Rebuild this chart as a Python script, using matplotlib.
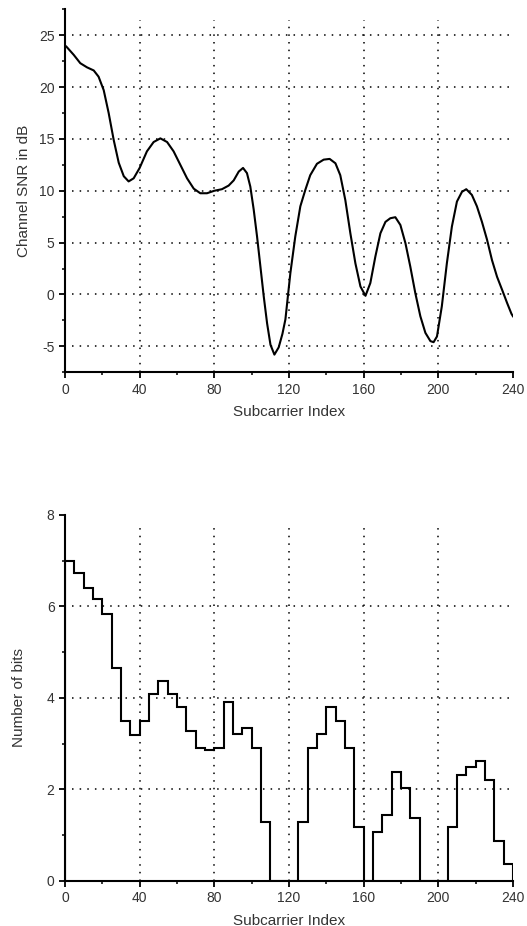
import matplotlib.pyplot as plt
import numpy as np

plt.rcParams['font.family'] = ['Liberation Sans', 'DejaVu Sans']
plt.rcParams['axes.unicode_minus'] = False

# Channel SNR curve
snr_x = [0, 0.75, 4.7, 8.2, 11.8, 15.4, 18, 20.75, 23.4, 26.1, 28.8, 31.5, 34.1, 36.8, 40,
         43.9, 47.5, 51.1, 54.7, 58.2, 61.8, 65.4, 69, 72.5, 76.1, 80, 84.1, 87.7, 90.4,
         93.1, 95.4, 97.5, 99.3, 101.1, 102.9, 104.7, 106.5, 108.3, 110.1, 112.2, 114.5,
         116.5, 118.1, 120.75, 123.4, 126.1, 128.8, 131.4, 135, 138.6, 141.8, 144.9, 147.5,
         150.2, 152.9, 155.6, 158.3, 161, 163.6, 166.3, 169, 171.7, 174.3, 177, 179.7, 182.4,
         185, 187.7, 190.4, 193.1, 195.8, 197.5, 199.3, 201.9, 204.6, 207.3, 210, 212.7, 215,
         218, 220.7, 223.4, 226.1, 228.8, 231.5, 234.2, 236.9, 239.2, 240]
snr_db = [24.0, 23.9, 23.1, 22.3, 21.9, 21.6, 21.0, 19.7, 17.5, 14.9, 12.7, 11.4, 10.9, 11.2, 12.2,
          13.8, 14.7, 15.05, 14.7, 13.8, 12.5, 11.2, 10.2, 9.76, 9.76, 10.0, 10.15, 10.5, 11.0,
          11.85, 12.2, 11.7, 10.4, 8.2, 5.6, 2.7, -0.2, -2.8, -4.85, -5.8, -5.1,
          -3.8, -2.4, 2.05, 5.6, 8.5, 10.1, 11.5, 12.6, 13.0, 13.07, 12.65, 11.5,
          9.1, 5.9, 3.0, 0.77, -0.13, 1.1, 3.66, 5.9, 7.0, 7.35, 7.45, 6.7, 4.95,
          2.7, 0.13, -2.1, -3.7, -4.5, -4.6, -4.05, -1.15, 3.0, 6.55, 8.96, 9.9, 10.15,
          9.6, 8.5, 7.0, 5.3, 3.3, 1.7, 0.45, -0.83, -1.86, -2.1]

# Bit loading per group of 5 subcarriers
bit_edges = np.arange(0, 245, 5)
bits = [7.0, 6.72, 6.41, 6.17, 5.83, 4.66, 3.5, 3.18, 3.5, 4.09, 4.36, 4.09, 3.79, 3.28, 2.91, 2.86,
        2.91, 3.9, 3.22, 3.34, 2.91, 1.29, 0, 0, 0, 1.29, 2.91, 3.22, 3.79, 3.5, 2.91, 1.18,
        0, 1.08, 1.45, 2.39, 2.04, 1.38, 0, 0, 0, 1.18, 2.32, 2.5, 2.62, 2.21, 0.87, 0.37]

txt = '#333333'
grid_kw = dict(color='black', linewidth=1.1, linestyle=(0, (1, 4)), zorder=1)

fig = plt.figure(figsize=(5.27, 9.26), dpi=100)


def style_axes(ax):
    for s in ['top', 'right']:
        ax.spines[s].set_visible(False)
    for s in ['left', 'bottom']:
        ax.spines[s].set_linewidth(1.5)
    ax.tick_params(which='major', direction='out', length=4, width=1.3, colors='black',
                   labelcolor=txt, labelsize=10)
    ax.tick_params(which='minor', direction='out', length=2.5, width=1.1)
    ax.set_xlim(0, 240)
    ax.set_xticks(np.arange(0, 241, 40))
    ax.set_xticks(np.arange(20, 241, 40), minor=True)
    for x in range(40, 201, 40):
        ax.axvline(x, ymax=0.97, **grid_kw)
    ax.set_xlabel('Subcarrier Index', fontsize=11, color=txt, labelpad=6)


# Grafico 1: SNR del canal
ax1 = fig.add_axes([0.1233, 0.598, 0.850, 0.392])
ax1.plot(snr_x, snr_db, color='black', linewidth=1.5, zorder=3)
ax1.set_ylim(-7.5, 27.5)
ax1.set_yticks(np.arange(-5, 26, 5))
ax1.set_yticks(np.arange(-7.5, 27.6, 5), minor=True)
for y in range(-5, 26, 5):
    ax1.axhline(y, xmin=0.015, **grid_kw)
ax1.set_ylabel('Channel SNR in dB', fontsize=11, color=txt, labelpad=6)
style_axes(ax1)

# Grafico 2: bits por subportadora
ax2 = fig.add_axes([0.1233, 0.0486, 0.850, 0.3955])
ax2.stairs(bits, bit_edges, color='black', linewidth=1.5, baseline=0, zorder=3)
ax2.set_ylim(0, 8)
ax2.set_yticks(np.arange(0, 9, 2))
ax2.set_yticks(np.arange(1, 8, 2), minor=True)
for y in [2, 4, 6]:
    ax2.axhline(y, xmin=0.015, **grid_kw)
ax2.set_ylabel('Number of bits', fontsize=11, color=txt, labelpad=15)
style_axes(ax2)

fig.savefig('out.png', dpi=100)
